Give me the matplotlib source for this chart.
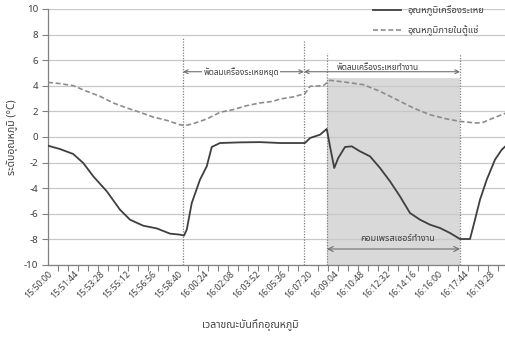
import matplotlib
matplotlib.use('Agg')
import matplotlib.pyplot as plt
from matplotlib import font_manager
from matplotlib.ft2font import FT2Font
from matplotlib.ticker import MultipleLocator, FuncFormatter

# ---------------- data ----------------
# elapsed seconds from 15:50:00
evap_t = [0, 48, 101, 141, 181, 235, 288, 328, 381, 435, 488, 528, 544, 555, 575,
          608, 635, 655, 688, 768, 848, 928, 1028, 1048, 1088, 1115, 1128, 1145,
          1161, 1188, 1215, 1248, 1288, 1328, 1368, 1408, 1448, 1488, 1528, 1568,
          1608, 1648, 1688, 1708, 1728, 1755, 1788, 1815, 1832]
evap_v = [-0.68, -0.94, -1.33, -2.03, -3.07, -4.24, -5.68, -6.46, -6.93, -7.14,
          -7.55, -7.63, -7.70, -7.24, -5.16, -3.33, -2.29, -0.78, -0.47, -0.42,
          -0.40, -0.47, -0.47, -0.08, 0.18, 0.63, -0.73, -2.42, -1.64, -0.78,
          -0.73, -1.12, -1.51, -2.42, -3.46, -4.64, -5.94, -6.46, -6.85, -7.11,
          -7.50, -7.97, -7.97, -6.46, -4.90, -3.33, -1.77, -0.99, -0.68]

cab_t = [0, 48, 101, 155, 208, 261, 315, 368, 421, 475, 528, 548, 581, 635, 688,
         741, 795, 848, 901, 928, 981, 1028, 1048, 1101, 1128, 1195, 1261, 1328,
         1395, 1461, 1528, 1595, 1648, 1715, 1741, 1781, 1832]
cab_v = [4.27, 4.17, 4.01, 3.57, 3.18, 2.66, 2.27, 1.93, 1.56, 1.30, 0.96, 0.89,
         1.04, 1.41, 1.93, 2.14, 2.45, 2.66, 2.79, 2.97, 3.13, 3.39, 3.96, 4.01,
         4.43, 4.27, 4.09, 3.57, 2.92, 2.27, 1.74, 1.41, 1.22, 1.09, 1.15, 1.48,
         1.87]

series_labels = ['อุณหภูมิเครื่องระเหย', 'อุณหภูมิภายในตู้แช่']
event_t = [540, 1024, 1116, 1648]
event_top = [7.7, 7.6, 6.6, 6.5]
fan_off_label = 'พัดลมเครื่องระเหยหยุด'
fan_on_label = 'พัดลมเครื่องระเหยทำงาน'
comp_label = 'คอมเพรสเซอร์ทำงาน'
ylabel = 'ระดับอุณหภูมิ (°C)'
xlabel = 'เวลาขณะบันทึกอุณหภูมิ'
start_h, start_m, start_s = 15, 50, 0

# ---------------- fonts ----------------
def find_thai_font():
    prefs = ['Noto Sans Thai', 'Noto Sans Thai UI', 'Tahoma', 'Loma', 'Garuda']
    found = []
    for f in font_manager.fontManager.ttflist:
        try:
            cm = FT2Font(f.fname).get_charmap()
        except Exception:
            continue
        if 0x0E01 in cm and 0x0E2B in cm and 0x0E32 in cm:
            found.append(f.name)
    for p in prefs:
        if p in found:
            return p
    return found[0] if found else None

thai = find_thai_font()
fam = ([thai] if thai else []) + ['DejaVu Sans']
plt.rcParams['font.family'] = fam

txt = '#404040'
fig = plt.figure(figsize=(5.06, 3.40), dpi=100)
ax = fig.add_axes([48/506, 1-265/340, 1-48/506, 256/340])

ax.set_xlim(0, 1832)
ax.set_ylim(-10, 10)

# grid
ax.yaxis.set_major_locator(MultipleLocator(2))
ax.grid(axis='y', color='#c8c8c8', lw=0.9, zorder=0.5)
ax.set_axisbelow(True)

# shading
ax.fill_between([event_t[2], event_t[3]], -10, 4.6, color='#d9d9d9', lw=0, zorder=0.3)

# lines
ax.plot(evap_t, evap_v, color='#3f3f3f', lw=1.3, label=series_labels[0], zorder=3)
ax.plot(cab_t, cab_v, color='#8c8c8c', lw=1.2, dashes=(3, 1.6), label=series_labels[1], zorder=3)

# event lines
for t, top in zip(event_t, event_top):
    ax.vlines(t, -10, top, color='#808080', lw=0.9, linestyles=(0, (1, 1.2)), zorder=2)

# annotations
arrow_y = 5.1
aprops = dict(arrowstyle='<->', color='#707070', lw=0.8, shrinkA=0, shrinkB=0,
              mutation_scale=7)
ax.annotate('', xy=(event_t[0], arrow_y), xytext=(event_t[1], arrow_y), arrowprops=aprops, zorder=4)
ax.annotate('', xy=(event_t[1], arrow_y), xytext=(event_t[3], arrow_y), arrowprops=aprops, zorder=4)
ax.text(772, arrow_y, fan_off_label, fontsize=6, color=txt, ha='center', va='center',
        bbox=dict(facecolor='white', edgecolor='none', pad=1), zorder=5)
ax.text(1320, arrow_y - 0.05, fan_on_label, fontsize=6, color=txt, ha='center', va='bottom',
        zorder=5)

bprops = dict(aprops)
bprops['mutation_scale'] = 9
ax.annotate('', xy=(event_t[2], -8.75), xytext=(event_t[3], -8.75), arrowprops=bprops, zorder=4)
ax.text(1400, -7.95, comp_label, fontsize=6.5, color=txt, ha='center', va='center', zorder=5)

# spines
for s in ['top', 'right']:
    ax.spines[s].set_visible(False)
for s in ['left', 'bottom']:
    ax.spines[s].set_color('#808080')
    ax.spines[s].set_linewidth(0.9)

# ticks
def fmt(v, pos):
    tot = start_h * 3600 + start_m * 60 + start_s + int(round(v))
    return '%d:%02d:%02d' % (tot // 3600, (tot % 3600) // 60, tot % 60)

ax.xaxis.set_major_locator(MultipleLocator(104))
ax.xaxis.set_minor_locator(MultipleLocator(40))
ax.xaxis.set_major_formatter(FuncFormatter(fmt))
ax.tick_params(axis='x', which='major', length=0, pad=3, labelsize=6.3, labelcolor=txt)
ax.tick_params(axis='x', which='minor', length=4, width=0.8, color='#808080', direction='out')
ax.tick_params(axis='y', length=4, width=0.8, color='#808080', labelsize=7, labelcolor=txt, pad=3)
for lab in ax.get_xticklabels():
    lab.set_rotation(45)
    lab.set_ha('right')
    lab.set_rotation_mode('anchor')

ax.set_yticks(range(-10, 11, 2))
ax.set_ylabel(ylabel, fontsize=7.5, color=txt, labelpad=4)
fig.text(250/506, 1-325/340, xlabel, fontsize=7.5, color=txt, ha='center', va='center')

leg = ax.legend(loc='upper left', bbox_to_anchor=(0.737, 0.985), bbox_transform=fig.transFigure,
                frameon=False, fontsize=6.8, handlelength=3.0, handletextpad=0.7,
                labelspacing=1.0, borderpad=0, borderaxespad=0)
for t in leg.get_texts():
    t.set_color(txt)

fig.savefig('out.png', dpi=100)
